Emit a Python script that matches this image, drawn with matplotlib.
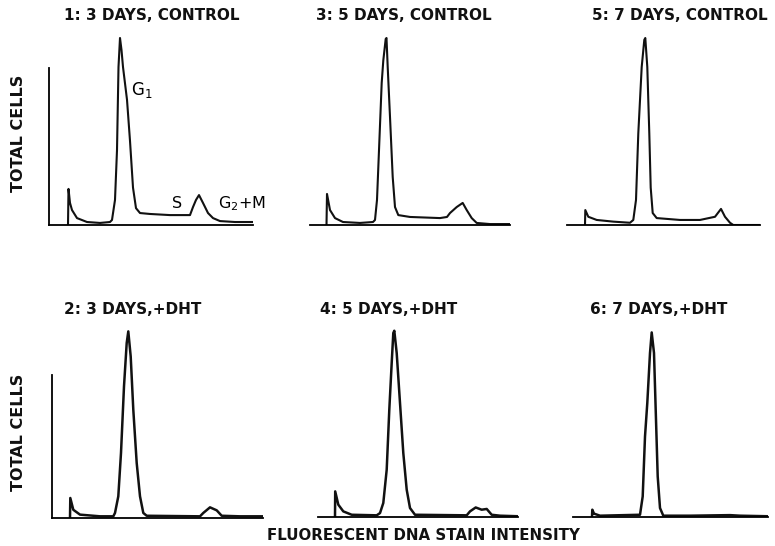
import matplotlib.pyplot as plt

# panel titles, same order as the data below
titles = ['1: 3 DAYS, CONTROL', '3: 5 DAYS, CONTROL', '5: 7 DAYS, CONTROL',
          '2: 3 DAYS,+DHT', '4: 5 DAYS,+DHT', '6: 7 DAYS,+DHT']

# DNA stain channel vs total cells (G1 peak ~ 100)
ch1 = [19, 19.5, 21, 23, 28, 38, 51, 61, 63, 66, 68, 69.5, 71, 72.5, 74, 78, 81, 84, 87,
       91, 101, 121, 141, 144, 147, 150, 154, 159, 164, 171, 186, 204]
n1 = [0, 19.3, 11.8, 8.0, 3.7, 1.6, 1.1, 1.6, 2.7, 13.4, 40, 84.5, 100, 93.6, 84.5, 67, 45, 20, 9,
      6.4, 5.9, 5.3, 5.3, 9.6, 13.4, 16, 11.8, 6.4, 3.7, 2.1, 1.6, 1.6]

ch3 = [16.5, 17, 20, 25, 33, 50, 63, 65, 67, 69, 71.7, 73.3, 75.7, 76.5, 77.7, 80, 82.7, 85,
       88.3, 100, 130, 137, 140, 146.7, 152.7, 156.7, 161.7, 166.7, 180, 200]
n3 = [0, 16.6, 8.0, 3.7, 1.6, 1.1, 1.6, 2.7, 13.4, 40, 76, 88, 99.5, 100, 84.5, 57.8, 25.7, 9.6,
      5.3, 4.3, 3.7, 4.3, 6.4, 9.6, 11.8, 8.0, 3.7, 1.1, 0.5, 0.5]

ch5 = [18, 18.3, 21.3, 29.7, 46.3, 63, 66.3, 69, 71.3, 74.7, 77.3, 78.3, 80.3, 82.3, 83.7,
       85.7, 89.7, 113, 133, 148, 154, 158, 163, 166.3, 193]
n5 = [0, 8.0, 4.4, 2.7, 1.8, 1.2, 2.7, 13.4, 49, 84.5, 99, 100, 84.5, 49, 20,
      6.4, 3.7, 2.7, 2.7, 4.4, 8.6, 4.4, 1.2, 0, 0]

ch2 = [18.5, 18.8, 21.8, 28.5, 48.5, 61.8, 63.5, 66.8, 69.5, 72.5, 75.2, 76.8, 79.2, 81.8,
       85.2, 88.5, 91.8, 95.2, 148.5, 151.8, 158.5, 165.2, 170.2, 188.5, 211.8]
n2 = [0, 10.7, 4.4, 1.8, 0.9, 0.9, 2.7, 11.6, 34.8, 70.4, 93.6, 99.8, 86.4, 57.9,
      29.4, 11.6, 2.7, 1.2, 0.9, 2.7, 5.7, 4.1, 1.2, 0.9, 0.9]

ch4 = [17, 17.2, 20.3, 25.3, 33.7, 58.7, 62, 65.3, 68.7, 71.3, 73.7, 75.3, 76.3, 78.7, 82,
       85.3, 88.7, 92, 97, 148.7, 152, 157.7, 163.7, 168.7, 173.7, 182, 200.3]
n4 = [0, 13.7, 6.6, 3.0, 1.2, 0.9, 2.1, 7.5, 25.3, 57.4, 82.4, 98.4, 99.6, 87.7, 61,
      34.2, 14.6, 4.8, 1.2, 0.9, 3.0, 5.1, 3.9, 4.3, 1.2, 0.7, 0.4]

ch6 = [19, 19.3, 21, 27, 67, 69.7, 72, 74.3, 77, 78.7, 81, 83, 84.7, 87, 90.3, 117, 157, 167, 195]
n6 = [0, 3.9, 1.8, 0.7, 1.2, 11, 43, 61, 87.7, 98.7, 87.7, 52, 21.7, 4.8, 0.7, 0.7, 1.0, 0.7, 0.4]

channels = [ch1, ch3, ch5, ch2, ch4, ch6]
counts = [n1, n3, n5, n2, n4, n6]

# pixel layout of each panel: left, right, baseline, title centre
layout = [(49, 253, 225, 152), (310, 510, 225, 404), (567, 760, 225, 680),
          (51.5, 263, 518, 133), (318, 518, 517, 389), (573, 768, 517, 659)]
axis_top = [84, None, None, 76.6, None, None]

W, H = 775, 546
PX = 1.87  # pixels per count
TOP = 106

fig = plt.figure(figsize=(W / 100, H / 100), dpi=100)
fig.patch.set_facecolor('white')

for i in range(6):
    left, right, base, tx = layout[i]
    ax = fig.add_axes([left / W, 1 - base / H, (right - left) / W, TOP * PX / H])
    lw = 1.5 if base < 300 else 1.8
    ax.plot(channels[i], counts[i], color='#111111', lw=lw, solid_joinstyle='round')
    ax.set_xlim(0, right - left)
    ax.set_ylim(0, TOP)
    ax.set_xticks([])
    ax.set_yticks([])
    ax.spines['top'].set_visible(False)
    ax.spines['right'].set_visible(False)
    ax.spines['bottom'].set_linewidth(1.3)
    if axis_top[i] is None:
        ax.spines['left'].set_visible(False)
    else:
        ax.spines['left'].set_bounds(0, axis_top[i])
        ax.spines['left'].set_linewidth(1.3)
    ax.patch.set_alpha(0)
    ty = 15.5 if base < 300 else 310
    fig.text(tx / W, 1 - ty / H, titles[i], ha='center', va='center',
             fontsize=11, fontweight='bold', color='#111111')

# left labels and shared x label
for yc in [133, 432]:
    fig.text(19 / W, 1 - yc / H, 'TOTAL CELLS', rotation=90, ha='center', va='center',
             fontsize=11.5, fontweight='bold', color='#111111')
fig.text(423 / W, 1 - 535 / H, 'FLUORESCENT DNA STAIN INTENSITY', ha='center', va='center',
         fontsize=10.8, fontweight='bold', color='#111111')

# phase labels on the first histogram
fig.text(131 / W, 1 - 90 / H, r'$\mathregular{G_1}$', ha='left', va='center', fontsize=12)
fig.text(177.5 / W, 1 - 204 / H, 'S', ha='center', va='center', fontsize=11.5)
fig.text(218 / W, 1 - 204 / H, r'$\mathregular{G_2}$+M', ha='left', va='center', fontsize=11.5)

fig.savefig('out.png', dpi=100)
